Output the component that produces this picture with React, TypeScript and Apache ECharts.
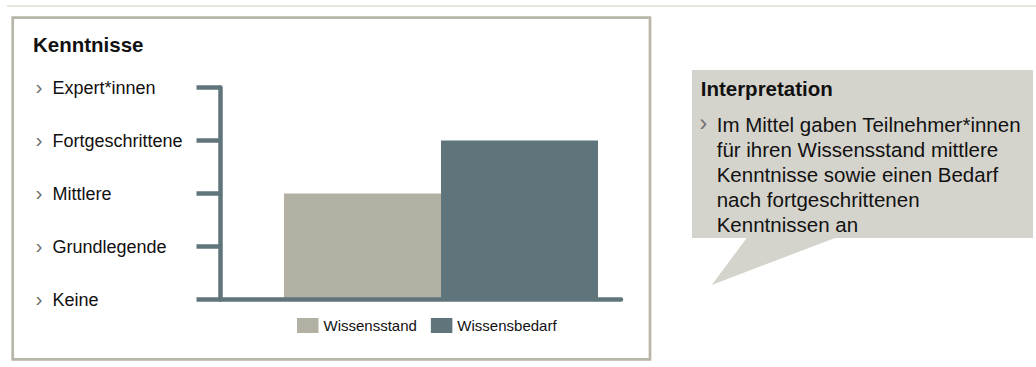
import React, { useEffect, useRef } from "react";
import * as echarts from "echarts";

// Knowledge levels on the y axis, bottom to top
const levels = ["Keine", "Grundlegende", "Mittlere", "Fortgeschrittene", "Expert*innen"];
const category = ["Kenntnisse"];
const seriesNames = ["Wissensstand", "Wissensbedarf"];
const wissensstand = [2];
const wissensbedarf = [3];

const interpretationTitle = "Interpretation";
const interpretationLines = [
  "Im Mittel gaben Teilnehmer*innen",
  "für ihren Wissensstand mittlere",
  "Kenntnisse sowie einen Bedarf",
  "nach fortgeschrittenen",
  "Kenntnissen an",
];

const FONT = "'Liberation Sans', Arial, Helvetica, sans-serif";
const SLATE = "#5f757b";
const SAND = "#b2b0a2";
const CHEVRON = "#707070";

export default function App() {
  const ref = useRef<HTMLDivElement>(null);

  useEffect(() => {
    if (!ref.current) return;
    const chart = echarts.init(ref.current, null, { renderer: "svg" });

    const plotTop = 87.5;
    const plotBottom = 299.5;
    const plotRight = 621;

    chart.setOption({
      animation: false,
      backgroundColor: "#ffffff",
      textStyle: { fontFamily: FONT },
      grid: [
        // axis frame
        { left: 220.5, right: 1036 - plotRight, top: plotTop, height: plotBottom - plotTop },
        // bar area
        { left: 261, right: 1036 - plotRight, top: plotTop, height: plotBottom - plotTop },
      ],
      xAxis: [
        {
          gridIndex: 0,
          type: "category",
          data: category,
          z: 5,
          axisLine: { show: true, lineStyle: { color: SLATE, width: 4.5 } },
          axisTick: { show: false },
          axisLabel: { show: false },
          splitLine: { show: false },
        },
        {
          gridIndex: 1,
          type: "category",
          data: category,
          show: false,
        },
      ],
      yAxis: [
        {
          gridIndex: 0,
          type: "value",
          min: 0,
          max: levels.length - 1,
          interval: 1,
          z: 5,
          axisLine: { show: true, lineStyle: { color: SLATE, width: 4.5 } },
          axisTick: { show: true, length: 24, lineStyle: { color: SLATE, width: 4.5 } },
          splitLine: { show: false },
          axisLabel: {
            show: true,
            align: "left",
            margin: 185,
            formatter: (v: number) => `{c|›}{t|${levels[v]}}`,
            rich: {
              c: { fontFamily: FONT, fontSize: 21, color: CHEVRON, width: 17, padding: [0, 0, 2, 0] },
              t: { fontFamily: FONT, fontSize: 18, color: "#111111" },
            },
          },
        },
        {
          gridIndex: 1,
          type: "value",
          min: 0,
          max: levels.length - 1,
          interval: 1,
          show: false,
        },
      ],
      legend: {
        left: 297,
        top: 318,
        padding: 0,
        itemWidth: 21.5,
        itemHeight: 15,
        itemGap: 14,
        icon: "rect",
        textStyle: { fontFamily: FONT, fontSize: 15, color: "#111111" },
        data: seriesNames,
      },
      series: [
        {
          name: seriesNames[0],
          type: "bar",
          xAxisIndex: 1,
          yAxisIndex: 1,
          data: wissensstand,
          barWidth: 157,
          barGap: "0%",
          itemStyle: { color: SAND },
        },
        {
          name: seriesNames[1],
          type: "bar",
          xAxisIndex: 1,
          yAxisIndex: 1,
          data: wissensbedarf,
          barWidth: 157,
          barGap: "0%",
          itemStyle: { color: SLATE },
        },
      ],
      graphic: [
        {
          type: "line",
          shape: { x1: 7, y1: 6, x2: 1036, y2: 6 },
          style: { stroke: "#cfcdc2", lineWidth: 1 },
          silent: true,
        },
        {
          type: "rect",
          shape: { x: 12.7, y: 17.7, width: 637.3, height: 341.6 },
          style: { fill: "none", stroke: "#b8b6a8", lineWidth: 2.7 },
          silent: true,
        },
        {
          type: "text",
          x: 33,
          y: 44.6,
          style: {
            text: "Kenntnisse",
            fontFamily: FONT,
            fontSize: 20.5,
            fontWeight: "bold",
            fill: "#111111",
            verticalAlign: "middle",
          },
          silent: true,
        },
        {
          type: "polygon",
          shape: {
            points: [
              [692, 70],
              [1033, 70],
              [1033, 238],
              [835, 238],
              [711.7, 285],
              [746.7, 238],
              [692, 238],
            ],
          },
          style: { fill: "#d5d4cc" },
          silent: true,
        },
        {
          type: "text",
          x: 700.7,
          y: 88.3,
          style: {
            text: interpretationTitle,
            fontFamily: FONT,
            fontSize: 20.5,
            fontWeight: "bold",
            fill: "#111111",
            verticalAlign: "middle",
          },
          silent: true,
        },
        {
          type: "text",
          x: 699.5,
          y: 122.5,
          style: {
            text: "›",
            fontFamily: FONT,
            fontSize: 23,
            fill: CHEVRON,
            verticalAlign: "middle",
          },
          silent: true,
        },
        {
          type: "text",
          x: 716.7,
          y: 111.7,
          style: {
            text: interpretationLines.join("\n"),
            fontFamily: FONT,
            fontSize: 20.5,
            lineHeight: 25,
            fill: "#111111",
            verticalAlign: "top",
          },
          silent: true,
        },
      ],
    });

    return () => chart.dispose();
  }, []);

  return (
    <div
      ref={ref}
      style={{ position: "absolute", left: 0, top: 0, width: 1036, height: 367 }}
    />
  );
}
